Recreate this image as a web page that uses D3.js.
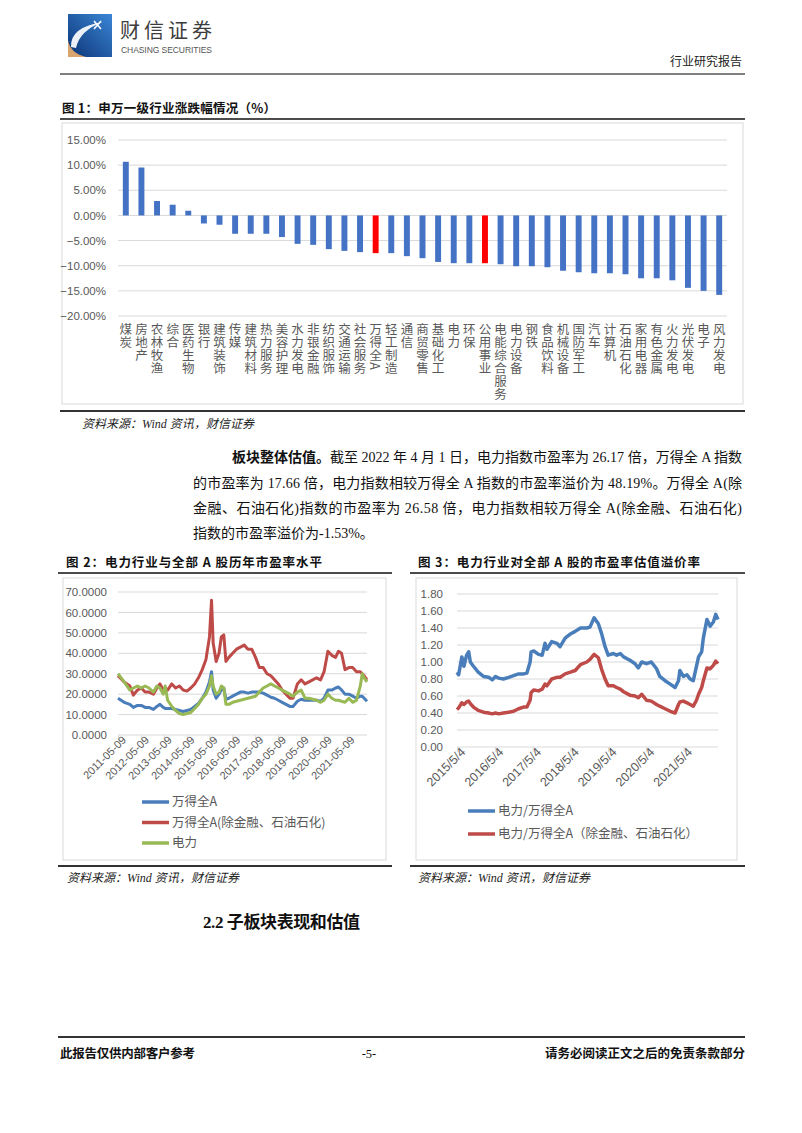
<!DOCTYPE html>
<html><head><meta charset="utf-8">
<script src="https://cdn.jsdelivr.net/npm/d3@7"></script>
<style>body{margin:0;background:#fff} svg{display:block}</style>
</head><body><svg id="page" width="802" height="1133"></svg>
<script>
// ---------- Figure 1 data ----------
const categories = ["煤炭","房地产","农林牧渔","综合","医药生物","银行","建筑装饰","传媒","建筑材料","热力服务","美容护理","水力发电","非银金融","纺织服饰","交通运输","社会服务","万得全A","轻工制造","通信","商贸零售","基础化工","电力","环保","公用事业","电能综合服务","电力设备","钢铁","食品饮料","机械设备","国防军工","汽车","计算机","石油石化","家用电器","有色金属","火力发电","光伏发电","电子","风力发电"];
const changes = [10.67,9.53,2.87,2.13,0.93,-1.6,-1.85,-3.65,-3.65,-3.65,-4.3,-5.65,-5.85,-6.7,-7.05,-7.3,-7.5,-7.5,-8.1,-8.5,-9.25,-9.5,-9.5,-9.5,-9.7,-10.1,-10.1,-10.3,-11.0,-11.3,-11.5,-11.5,-11.7,-12.5,-12.5,-12.9,-14.4,-15.0,-15.8];
const highlighted = ["万得全A","公用事业"];
const fig1Ticks = [15,10,5,0,-5,-10,-15,-20];

// ---------- Figure 2 data (PE) ----------
const peDates = ["2011-05-09","2011-08-15","2011-11-15","2012-01-10","2012-03-15","2012-05-15","2012-07-15","2012-09-15","2012-11-25","2013-01-20","2013-03-10","2013-05-01","2013-06-01","2013-07-10","2013-09-15","2013-11-15","2014-01-15","2014-03-15","2014-05-15","2014-07-15","2014-09-15","2014-11-15","2015-01-15","2015-03-15","2015-05-10","2015-06-12","2015-07-08","2015-08-25","2015-10-10","2015-11-15","2015-12-25","2016-01-28","2016-03-15","2016-05-15","2016-07-15","2016-09-15","2016-11-15","2017-01-15","2017-03-15","2017-05-15","2017-07-15","2017-09-15","2017-11-15","2018-01-15","2018-03-15","2018-05-15","2018-07-15","2018-09-15","2018-11-15","2019-01-04","2019-03-15","2019-05-15","2019-07-15","2019-09-15","2019-11-15","2020-01-15","2020-03-20","2020-05-15","2020-07-15","2020-09-15","2020-11-15","2020-12-31","2021-02-18","2021-04-15","2021-06-15","2021-08-15","2021-10-15","2021-12-15","2022-01-15","2022-02-15","2022-04-01"];
const peWindA   = [18,16,15,13.5,14.5,14.5,13.5,13.5,12.5,14,15,13.5,13,13,13,12.5,12,11.5,12,12.5,14,15.5,18,21,26,31,22,18,20,22,23,17.5,18,19,20,21,21,20.5,21,21,21,20.5,19.5,18.5,18,17,16,15,14,14,16.5,17.5,17,17,17,17,16.5,18,22,22,23,23.5,22,20,20,19,18,19,19,18,16.5];
const peWindAEx = [29,26,24,19.5,22,23,21,21,20,23,25,22,23,22,25,23,24,22,21.5,23,25,28,32,37,48,66,45,36,40,48,49,36,38,40,42,43,44,42,42,38,33,33,30,29,27,25,22,20,18,18,25,27,25,26,27,28,27,31,41,39,38,41,40,32,33,33,31,31,30,29,27];
const pePower   = [30,26,22,23,24,23,24,23,21,24,23,20,24,17,14,12,10.5,10,10.5,11,13,15,18,20,24,29,24,20,21,24,23,15,15,16,16.5,17,17.5,18,18.5,19,21,23,24,25,24,23,22,21,20,19,21,22,18,18,17.5,17,16,17,20,18,17,17,16.5,16,18,16,17,24,30,28,26];
const peTickLabels = ["2011-05-09","2012-05-09","2013-05-09","2014-05-09","2015-05-09","2016-05-09","2017-05-09","2018-05-09","2019-05-09","2020-05-09","2021-05-09"];
const peYTicks = [0,10,20,30,40,50,60,70];
const peSeriesNames = ["万得全A","万得全A(除金融、石油石化)","电力"];

// ---------- Figure 3 data (premium) ----------
const prDates = ["2015-05-04","2015-05-20","2015-06-20","2015-07-10","2015-08-05","2015-08-25","2015-09-10","2015-10-10","2015-11-25","2016-01-15","2016-03-05","2016-04-10","2016-05-10","2016-06-10","2016-07-25","2016-09-15","2016-11-01","2016-12-20","2017-02-05","2017-03-10","2017-04-10","2017-04-20","2017-05-15","2017-07-01","2017-08-05","2017-09-01","2017-09-20","2017-11-05","2017-12-25","2018-01-25","2018-03-15","2018-05-05","2018-06-20","2018-08-10","2018-10-10","2018-11-10","2018-12-20","2019-01-30","2019-03-01","2019-04-05","2019-05-05","2019-06-25","2019-07-25","2019-08-30","2019-10-01","2019-12-01","2020-01-20","2020-02-20","2020-03-25","2020-05-10","2020-06-25","2020-08-15","2020-09-15","2020-11-05","2020-12-25","2021-02-10","2021-03-15","2021-03-28","2021-05-01","2021-06-05","2021-07-05","2021-08-05","2021-09-05","2021-09-25","2021-10-25","2021-11-10","2021-12-15","2022-01-15","2022-02-15","2022-03-10","2022-04-01"];
const prWindA   = [0.88,0.85,1.06,0.95,1.08,1.12,1.00,0.95,0.88,0.83,0.82,0.79,0.83,0.81,0.80,0.82,0.84,0.86,0.86,0.87,1.00,1.12,1.13,1.09,1.08,1.22,1.15,1.24,1.22,1.18,1.28,1.33,1.36,1.40,1.40,1.41,1.52,1.45,1.34,1.18,1.08,1.10,1.08,1.10,1.06,1.02,0.98,0.93,1.00,0.98,1.00,0.92,0.83,0.78,0.74,0.70,0.78,0.90,0.83,0.85,0.80,0.78,0.95,1.06,1.12,1.28,1.50,1.42,1.47,1.56,1.50];
const prWindAEx = [0.44,0.46,0.52,0.50,0.53,0.54,0.51,0.47,0.43,0.41,0.40,0.39,0.40,0.39,0.40,0.41,0.42,0.45,0.47,0.47,0.55,0.64,0.67,0.66,0.68,0.74,0.72,0.80,0.82,0.82,0.86,0.88,0.90,0.97,1.00,1.03,1.09,1.05,0.92,0.80,0.72,0.72,0.70,0.68,0.65,0.61,0.60,0.58,0.62,0.55,0.54,0.50,0.48,0.45,0.42,0.40,0.50,0.53,0.54,0.52,0.50,0.48,0.55,0.62,0.70,0.78,0.93,0.92,0.96,1.01,0.98];
const prTickLabels = ["2015/5/4","2016/5/4","2017/5/4","2018/5/4","2019/5/4","2020/5/4","2021/5/4"];
const prYTicks = [0,0.2,0.4,0.6,0.8,1.0,1.2,1.4,1.6,1.8];
const prSeriesNames = ["电力/万得全A","电力/万得全A（除金融、石油石化）"];

// ---------- drawing ----------
const svg = d3.select("#page");
const CJK = "'Noto Sans CJK SC',sans-serif";
const SERIF = "'Liberation Serif','Noto Sans CJK SC',serif";
const SANS = "'Liberation Sans','Noto Sans CJK SC',sans-serif";
const GRID = "#d9d9d9", LBL = "#595959";
const C_BLUE = "#4a7ebb", C_RED = "#be4b48", C_GREEN = "#98b954";

// header / logo
const defs = svg.append("defs");
const lg = defs.append("linearGradient").attr("id","lg").attr("x1","1").attr("y1","0").attr("x2","0").attr("y2","1");
lg.append("stop").attr("offset","0").attr("stop-color","#3b86d6");
lg.append("stop").attr("offset","1").attr("stop-color","#0b3476");
const logo = svg.append("g");
logo.append("rect").attr("x",68).attr("y",14).attr("width",44).attr("height",43).attr("fill","url(#lg)");
logo.append("path").attr("d","M68,40 Q70,53 86,57 L68,57 Z").attr("fill","#d9a56f");
logo.append("path").attr("d","M71,47 Q70,27 103,22 Q80,30 76,48 Z").attr("fill","#fff").attr("opacity",0.92);
logo.append("path").attr("d","M94,21 L101,29 M101,21 L94,29").attr("stroke","#fff").attr("stroke-width",1.6);
svg.append("text").attr("x",120).attr("y",38).text("财信证券")
  .attr("font-family",CJK).attr("font-size",20).attr("fill","#3c3c3c").attr("textLength",92);
svg.append("text").attr("x",121).attr("y",53).text("CHASING SECURITIES")
  .attr("font-family",SANS).attr("font-size",8.5).attr("fill","#555").attr("textLength",91);
svg.append("text").attr("x",742).attr("y",66).attr("text-anchor","end").text("行业研究报告")
  .attr("font-family",CJK).attr("font-size",12).attr("fill","#222");
svg.append("line").attr("x1",60).attr("x2",745).attr("y1",74).attr("y2",74).attr("stroke","#7f7f7f").attr("stroke-width",2);

function figTitle(txt, x, y, len, x1, x2) {
  svg.append("text").attr("x",x).attr("y",y).text(txt).attr("font-family",CJK)
    .attr("font-weight","bold").attr("font-size",12.5).attr("fill","#111").attr("textLength",len);
  svg.append("line").attr("x1",x1).attr("x2",x2).attr("y1",y+6).attr("y2",y+6).attr("stroke","#111").attr("stroke-width",1.3);
}
function source(x, y, x1, x2, lineY) {
  svg.append("line").attr("x1",x1).attr("x2",x2).attr("y1",lineY).attr("y2",lineY).attr("stroke","#333").attr("stroke-width",2);
  const t = svg.append("text").attr("x",x).attr("y",y).attr("font-family",SERIF).attr("font-style","italic")
    .attr("font-size",12).attr("fill","#222").attr("textLength",172);
  t.append("tspan").text("资料来源：");
  t.append("tspan").text("Wind");
  t.append("tspan").text(" 资讯，财信证券");
}

// ---------- Figure 1 ----------
figTitle("图 1：申万一级行业涨跌幅情况（%）", 62, 113, 214, 60, 745);
svg.append("rect").attr("x",62).attr("y",123).attr("width",681).attr("height",281).attr("fill","none").attr("stroke",GRID);
const x1 = d3.scaleBand().domain(categories).range([118,727]).paddingInner(0.62).paddingOuter(0.31);
const y1 = d3.scaleLinear().domain([-20,15]).range([316,140]);
const g1 = svg.append("g");
g1.selectAll("line.grid").data(fig1Ticks).join("line")
  .attr("x1",118).attr("x2",727).attr("y1",d=>y1(d)).attr("y2",d=>y1(d)).attr("stroke",GRID);
g1.selectAll("rect.bar").data(categories).join("rect")
  .attr("x",d=>x1(d)).attr("width",x1.bandwidth())
  .attr("y",(d,i)=>y1(Math.max(0,changes[i]))).attr("height",(d,i)=>Math.abs(y1(changes[i])-y1(0)))
  .attr("fill",d=>highlighted.includes(d)?"#ff0000":"#4472c4");
const ax1 = d3.axisLeft(y1).tickValues(fig1Ticks).tickSize(0).tickPadding(12).tickFormat(d=>d3.format(".2f")(d)+"%");
g1.append("g").attr("transform","translate(118,0)").call(ax1)
  .call(g=>g.select(".domain").remove())
  .selectAll("text").attr("font-family",SANS).attr("font-size",11.5).attr("fill",LBL);
g1.selectAll("text.cat").data(categories).join("text").attr("class","cat")
  .attr("x",d=>x1(d)+x1.bandwidth()/2).attr("y",323)
  .style("writing-mode","vertical-rl").attr("font-family",CJK).attr("font-size",12.5)
  .attr("letter-spacing",0.6).attr("fill",LBL)
  .text(d=>d);
source(82, 428, 60, 745, 411);

// ---------- paragraph ----------
function para(x, y, parts, len) {
  const t = svg.append("text").attr("x",x).attr("y",y).attr("font-family",SERIF).attr("font-size",14).attr("fill","#111");
  if (len) t.attr("textLength",len).attr("lengthAdjust","spacing");
  parts.forEach(p=>{ const s=t.append("tspan").text(p[0]); if(p[1]) s.attr("font-weight","bold"); });
}
para(232, 462, [["板块整体估值。",true],["截至 2022 年 4 月 1 日，电力指数市盈率为 26.17 倍，万得全 A 指数"]], 510);
para(193, 488, [["的市盈率为 17.66 倍，电力指数相较万得全 A 指数的市盈率溢价为 48.19%。万得全 A(除"]], 549);
para(193, 513, [["金融、石油石化)指数的市盈率为 26.58 倍，电力指数相较万得全 A(除金融、石油石化)"]], 549);
para(193, 538, [["指数的市盈率溢价为-1.53%。"]]);

// ---------- line charts ----------
function parseD(s){ const p=s.split(/[-\/]/).map(Number); return new Date(p[0],p[1]-1,p[2]); }
function lineChart(o) {
  const g = svg.append("g");
  const x = d3.scaleTime().domain(o.xDomain).range([o.x0,o.x1]);
  const y = d3.scaleLinear().domain([o.yTicks[0], o.yTicks[o.yTicks.length-1]]).range([o.yb,o.yt]);
  g.selectAll("line.grid").data(o.yTicks.slice(1)).join("line")
    .attr("x1",o.x0).attr("x2",o.x1).attr("y1",d=>y(d)).attr("y2",d=>y(d)).attr("stroke",GRID);
  const ay = d3.axisLeft(y).tickValues(o.yTicks).tickSize(0).tickPadding(o.yPad).tickFormat(o.yFmt);
  g.append("g").attr("transform",`translate(${o.x0},0)`).call(ay)
    .call(s=>s.select(".domain").remove())
    .selectAll("text").attr("font-family",SANS).attr("font-size",11.5).attr("fill",LBL);
  const tickDates = o.tickLabels.map(parseD);
  const ax = d3.axisBottom(x).tickValues(tickDates).tickFormat((d,i)=>o.tickLabels[i]).tickSize(5).tickSizeOuter(0);
  const axg = g.append("g").attr("transform",`translate(0,${o.yb})`).call(ax);
  axg.select(".domain").attr("stroke",GRID).attr("d",`M${o.x0},0H${o.x1}`);
  axg.selectAll(".tick line").attr("stroke",GRID);
  axg.selectAll("text").attr("font-family",SANS).attr("font-size",o.xFont).attr("fill",LBL)
    .attr("x",2).attr("y",6).attr("dy","0.35em").attr("transform","rotate(-45)").style("text-anchor","end");
  const dates = o.dates.map(parseD);
  o.series.forEach(s=>{
    const line = d3.line().x((d,i)=>x(dates[i])).y(d=>y(d));
    g.append("path").datum(s.values).attr("d",line).attr("fill","none")
      .attr("stroke",s.color).attr("stroke-width",o.sw).attr("stroke-linejoin","round");
  });
  o.series.forEach((s,i)=>{
    const ly = o.legY + i*o.legGap;
    g.append("line").attr("x1",o.legX).attr("x2",o.legX+27).attr("y1",ly).attr("y2",ly).attr("stroke",s.color).attr("stroke-width",3.5);
    g.append("text").attr("x",o.legX+30).attr("y",ly).attr("dy","0.35em").text(s.name)
      .attr("font-family",CJK).attr("font-size",12.5).attr("fill",LBL);
  });
}

// Figure 2
figTitle("图 2：电力行业与全部 A 股历年市盈率水平", 66, 567, 256, 58, 392);
svg.append("rect").attr("x",63).attr("y",578).attr("width",323).attr("height",282).attr("fill","none").attr("stroke",GRID);
lineChart({
  xDomain:[parseD("2011-05-09"), parseD("2022-04-01")], x0:118, x1:367, yb:735, yt:592,
  yTicks:peYTicks, yPad:11, yFmt:d3.format(".4f"), tickLabels:peTickLabels, xFont:11,
  dates:peDates, sw:3,
  series:[{name:peSeriesNames[0],values:peWindA,color:C_BLUE},
          {name:peSeriesNames[1],values:peWindAEx,color:C_RED},
          {name:peSeriesNames[2],values:pePower,color:C_GREEN}],
  legX:142, legY:802, legGap:20.5
});
source(67, 882, 58, 392, 866);

// Figure 3
figTitle("图 3：电力行业对全部 A 股的市盈率估值溢价率", 418, 567, 282, 410, 745);
svg.append("rect").attr("x",416).attr("y",578).attr("width",321).attr("height",282).attr("fill","none").attr("stroke",GRID);
lineChart({
  xDomain:[parseD("2015-05-04"), parseD("2022-04-01")], x0:457, x1:718, yb:747, yt:594,
  yTicks:prYTicks, yPad:14, yFmt:d3.format(".2f"), tickLabels:prTickLabels, xFont:12.5,
  dates:prDates, sw:3.5,
  series:[{name:prSeriesNames[0],values:prWindA,color:C_BLUE},
          {name:prSeriesNames[1],values:prWindAEx,color:C_RED}],
  legX:468, legY:811, legGap:23
});
source(418, 882, 410, 745, 866);

// section heading
svg.append("text").attr("x",203).attr("y",928).text("2.2 子板块表现和估值")
  .attr("font-family",SERIF).attr("font-weight","bold").attr("font-size",17).attr("fill","#111").attr("textLength",157);

// footer
svg.append("line").attr("x1",58).attr("x2",745).attr("y1",1037).attr("y2",1037).attr("stroke","#333").attr("stroke-width",2);
svg.append("text").attr("x",60).attr("y",1058).text("此报告仅供内部客户参考")
  .attr("font-family",CJK).attr("font-weight","bold").attr("font-size",12.5).attr("fill","#111").attr("textLength",135);
svg.append("text").attr("x",369).attr("y",1058).attr("text-anchor","middle").text("-5-")
  .attr("font-family",SERIF).attr("font-size",12.5).attr("fill","#111");
svg.append("text").attr("x",745).attr("y",1058).attr("text-anchor","end").text("请务必阅读正文之后的免责条款部分")
  .attr("font-family",CJK).attr("font-weight","bold").attr("font-size",12.5).attr("fill","#111");
</script>
</body></html>
